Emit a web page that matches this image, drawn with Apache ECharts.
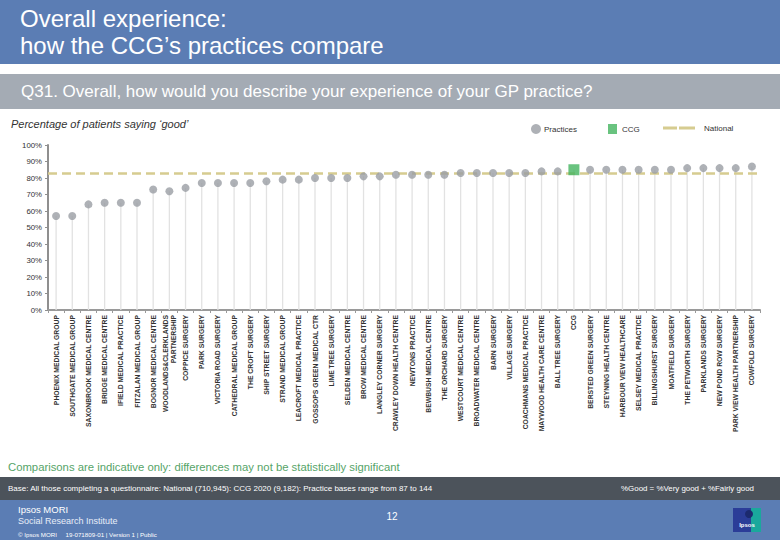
<!DOCTYPE html>
<html>
<head>
<meta charset="utf-8">
<script src="https://cdn.jsdelivr.net/npm/echarts@6/dist/echarts.min.js"></script>
<style>
  html, body { margin: 0; padding: 0; background: #ffffff; }
  #chart { width: 780px; height: 540px; }
</style>
</head>
<body>
<div id="chart"></div>
<script>
const categories = [
  'PHOENIX MEDICAL GROUP', 'SOUTHGATE MEDICAL GROUP', 'SAXONBROOK MEDICAL CENTRE',
  'BRIDGE MEDICAL CENTRE', 'IFIELD MEDICAL PRACTICE', 'FITZALAN MEDICAL GROUP',
  'BOGNOR MEDICAL CENTRE', 'WOODLANDS&CLERKLANDS\nPARTNERSHIP', 'COPPICE SURGERY',
  'PARK SURGERY', 'VICTORIA ROAD SURGERY', 'CATHEDRAL MEDICAL GROUP',
  'THE CROFT SURGERY', 'SHIP STREET SURGERY', 'STRAND MEDICAL GROUP',
  'LEACROFT MEDICAL PRACTICE', 'GOSSOPS GREEN MEDICAL CTR', 'LIME TREE SURGERY',
  'SELDEN MEDICAL CENTRE', 'BROW MEDICAL CENTRE', 'LANGLEY CORNER SURGERY',
  'CRAWLEY DOWN HEALTH CENTRE', 'NEWTONS PRACTICE', 'BEWBUSH MEDICAL CENTRE',
  'THE ORCHARD SURGERY', 'WESTCOURT MEDICAL CENTRE', 'BROADWATER MEDICAL CENTRE',
  'BARN SURGERY', 'VILLAGE SURGERY', 'COACHMANS MEDICAL PRACTICE',
  'MAYWOOD HEALTH CARE CENTRE', 'BALL TREE SURGERY', 'CCG',
  'BERSTED GREEN SURGERY', 'STEYNING HEALTH CENTRE', 'HARBOUR VIEW HEALTHCARE',
  'SELSEY MEDICAL PRACTICE', 'BILLINGSHURST SURGERY', 'MOATFIELD SURGERY',
  'THE PETWORTH SURGERY', 'PARKLANDS SURGERY', 'NEW POND ROW SURGERY',
  'PARK VIEW HEALTH PARTNERSHIP', 'COWFOLD SURGERY'
];

// % saying 'good' per practice ('-' where the CCG column sits)
const practiceValues = [
  57, 57, 64, 65, 65, 65, 73, 72, 74, 77, 77, 77, 77, 78, 79, 79, 80, 80, 80, 81,
  81, 82, 82, 82, 82, 83, 83, 83, 83, 83, 84, 84, '-', 85, 85, 85, 85, 85, 85, 86,
  86, 86, 86, 87
];
const ccgLabel = 'CCG';
const ccgValue = 85;
const nationalValue = 83;
const yTicks = [0, 10, 20, 30, 40, 50, 60, 70, 80, 90, 100];

const stemValues = practiceValues.map((v, i) => categories[i] === ccgLabel ? ccgValue : v);
const ccgValues = categories.map(c => c === ccgLabel ? ccgValue : '-');

const FONT = '"Liberation Sans", Arial, sans-serif';
const BLUE = '#5b7db4';
const KHAKI = '#d6cc90';

function txt(x, y, text, size, color, opts) {
  opts = opts || {};
  return {
    type: 'text', x: x, y: y, z: 10, silent: true,
    style: {
      text: text, fill: color,
      font: (opts.style || '') + ' ' + (opts.weight || 'normal') + ' ' + size + 'px ' + FONT,
      textAlign: opts.align || 'left', align: opts.align || 'left',
      textVerticalAlign: 'middle', verticalAlign: 'middle'
    }
  };
}
function box(x, y, w, h, color) {
  return { type: 'rect', z: 1, silent: true, shape: { x: x, y: y, width: w, height: h }, style: { fill: color } };
}

const chart = echarts.init(document.getElementById('chart'), null, { renderer: 'svg', width: 780, height: 540 });

chart.setOption({
  backgroundColor: '#ffffff',
  animation: false,
  textStyle: { fontFamily: FONT },
  grid: { left: 48, right: 20, top: 145, bottom: 230, containLabel: false },
  legend: [
    { data: [{ name: 'Practices', icon: 'circle' }], left: 526, top: 119, itemWidth: 10, itemHeight: 10, itemGap: 5,
      textStyle: { fontSize: 8, color: '#333', padding: [0, 0, 0, -2] }, selectedMode: false },
    { data: [{ name: 'CCG', icon: 'rect' }], left: 603, top: 119, itemWidth: 9, itemHeight: 10,
      textStyle: { fontSize: 8, color: '#333' }, selectedMode: false },
    { data: [{ name: 'National', icon: 'path://M0 0H14V3H0Z M16 0H32V3H16Z' }], left: 658, top: 119,
      itemWidth: 32, itemHeight: 3, itemGap: 5,
      textStyle: { fontSize: 8, color: '#333', padding: [0, 0, 0, 4] }, selectedMode: false }
  ],
  xAxis: {
    type: 'category',
    data: categories,
    axisLine: { lineStyle: { color: '#9a9a9a', width: 2 } },
    axisTick: { show: true, length: 3, lineStyle: { color: '#9a9a9a' } },
    axisLabel: {
      rotate: 90, interval: 0, fontSize: 6.8, fontWeight: 'bold', color: '#333',
      margin: 5, lineHeight: 8, fontFamily: FONT
    },
    splitLine: { show: false }
  },
  yAxis: {
    type: 'value', min: 0, max: 100, interval: 10,
    axisLine: { show: true, lineStyle: { color: '#8f8f8f', width: 2 } },
    axisTick: { show: true, length: 3, lineStyle: { color: '#8f8f8f' } },
    axisLabel: { formatter: v => yTicks.includes(v) ? v + '%' : '', fontSize: 7.8, color: '#333', margin: 6 },
    splitLine: { show: false }
  },
  series: [
    {
      name: 'stems', type: 'bar', data: stemValues, barWidth: 1.3, silent: true, z: 1,
      itemStyle: { color: '#e2e2e2' }
    },
    {
      name: 'National', type: 'line', data: [], symbol: 'none', z: 3,
      itemStyle: { color: KHAKI },
      lineStyle: { color: KHAKI, width: 2.5, type: [9, 5] },
      markLine: {
        silent: true, symbol: 'none', label: { show: false },
        lineStyle: { color: KHAKI, width: 2.5, type: [9, 5] },
        data: [{ yAxis: nationalValue }]
      }
    },
    {
      name: 'Practices', type: 'scatter', data: practiceValues, symbol: 'circle', symbolSize: 8, z: 5,
      itemStyle: { color: '#9a9ea4' }
    },
    {
      name: 'CCG', type: 'scatter', data: ccgValues, symbol: 'rect', symbolSize: 11, z: 6,
      itemStyle: { color: '#43b45f' }
    }
  ],
  graphic: [
    box(0, 0, 780, 64, BLUE),
    txt(20, 18, 'Overall experience:', 24, '#ffffff'),
    txt(20, 45, 'how the CCG\u2019s practices compare', 24, '#ffffff'),
    box(0, 74, 780, 35, '#a4abb4'),
    txt(21, 91.5, 'Q31. Overall, how would you describe your experience of your GP practice?', 17, '#ffffff'),
    txt(11, 124, 'Percentage of patients saying \u2018good\u2019', 11, '#333333', { style: 'italic' }),
    txt(8, 467, 'Comparisons are indicative only: differences may not be statistically significant', 11.3, '#55a468'),
    box(0, 477, 780, 23, '#4c535b'),
    txt(8, 488, 'Base: All those completing a questionnaire: National (710,945): CCG 2020 (9,182): Practice bases range from 87 to 144', 8, '#ffffff'),
    txt(754, 488, '%Good = %Very good + %Fairly good', 7.9, '#ffffff', { align: 'right' }),
    box(0, 500, 780, 40, BLUE),
    txt(18, 509, 'Ipsos MORI', 9.5, '#ffffff'),
    txt(18, 521, 'Social Research Institute', 9, '#e8eef8'),
    txt(18, 534, '\u00A9 Ipsos MORI     19-071809-01 | Version 1 | Public', 6.2, '#ffffff'),
    txt(392, 516, '12', 10, '#ffffff', { align: 'center' }),
    box(733, 508, 28, 24, '#2b3d98'),
    box(751, 508, 10, 24, '#1aa89c'),
    { type: 'circle', z: 2, silent: true, shape: { cx: 749, cy: 514, r: 4 }, style: { fill: '#1c2a6e' } },
    txt(747, 525, 'Ipsos', 6, '#ffffff', { align: 'center', weight: 'bold' })
  ]
});
</script>
</body>
</html>
